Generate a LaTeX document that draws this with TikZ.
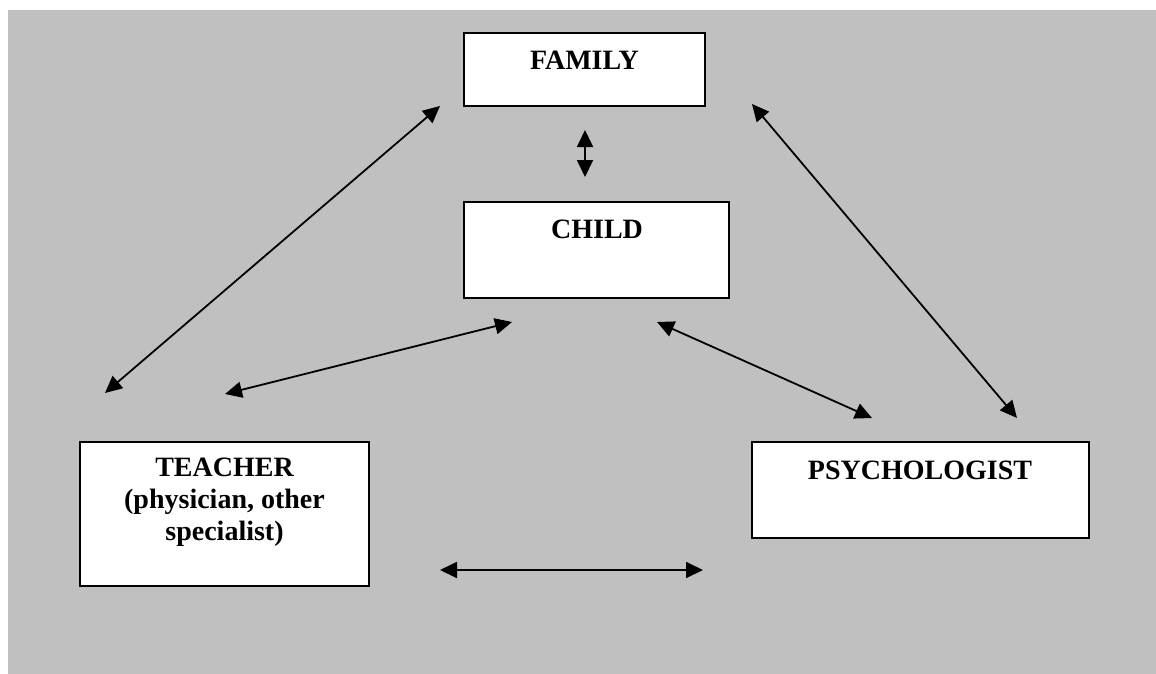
\documentclass[tikz,border=0pt]{standalone}
\usepackage{fontspec}
\setmainfont{Liberation Serif}
\usetikzlibrary{arrows.meta}
\begin{document}
\begin{tikzpicture}[x=1pt,y=-1pt,
  box/.style={draw=black, fill=white, line width=2pt, inner sep=0pt},
  lbl/.style={inner sep=0pt, font=\fontsize{28}{32}\selectfont\bfseries, align=center},
  link/.style={line width=1.8pt, {Triangle[length=17pt,width=16pt]}-{Triangle[length=17pt,width=16pt]}}]
\useasboundingbox (0,0) rectangle (1156,674);
\fill[fill={rgb,255:red,192;green,192;blue,192}] (8,10) rectangle (1156,674);

% boxes
\node[box, minimum width=241pt, minimum height=73pt] (family) at (584.5,69.5) {};
\node[box, minimum width=265pt, minimum height=96pt] (child) at (596.5,250) {};
\node[box, minimum width=289pt, minimum height=144pt] (teacher) at (224.5,514) {};
\node[box, minimum width=337pt, minimum height=96pt] (psych) at (920.5,490) {};

% labels
\node[lbl, anchor=base] (familyt) at (584.5,70) {FAMILY};
\node[lbl, anchor=base] (childt) at (597,238) {CHILD};
\node[lbl, anchor=north] (teachert) at (224.5,458) {TEACHER\\(physician, other\\specialist)};
\node[lbl, anchor=base] (psycht) at (920,479) {PSYCHOLOGIST};

% connector ends
\coordinate (fc1) at (585,130);
\coordinate (fc2) at (585,177);
\coordinate (tf1) at (440,106);
\coordinate (tf2) at (105,393);
\coordinate (tc1) at (225,394);
\coordinate (tc2) at (512,322);
\coordinate (cp1) at (657,322);
\coordinate (cp2) at (872,418);
\coordinate (fp1) at (752,104);
\coordinate (fp2) at (1017,418);
\coordinate (tp1) at (440,570);
\coordinate (tp2) at (703,570);

% connectors
\draw[link] (fc1) -- (fc2);
\draw[link] (tf1) -- (tf2);
\draw[link] (tc1) -- (tc2);
\draw[link] (cp1) -- (cp2);
\draw[link] (fp1) -- (fp2);
\draw[link] (tp1) -- (tp2);
\end{tikzpicture}
\end{document}
